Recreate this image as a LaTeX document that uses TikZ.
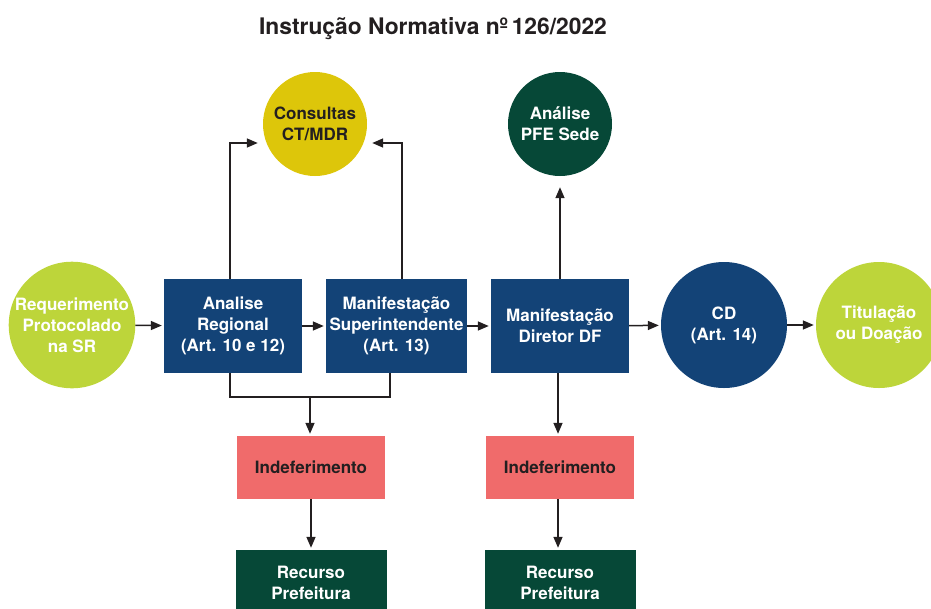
\documentclass[tikz,border=0pt]{standalone}
\usepackage{fontspec}
\setmainfont{TeX Gyre Heros}
\usetikzlibrary{arrows.meta}
\definecolor{limeg}{HTML}{BDD53A}
\definecolor{navy}{HTML}{134377}
\definecolor{dgreen}{HTML}{064837}
\definecolor{ylw}{HTML}{DDC60A}
\definecolor{salmon}{HTML}{F06B6B}
\definecolor{ink}{HTML}{231F20}
\tikzset{
  txt/.style={font=\fontsize{17}{21}\selectfont\bfseries, align=center, inner sep=0pt},
  circ/.style={txt, circle, minimum size=#1, draw=none},
  box/.style={txt, rectangle, minimum width=138pt, minimum height=94pt},
  smallbox/.style={txt, rectangle, minimum width=148pt, minimum height=63pt},
  arr/.style={draw=ink, line width=1.5pt, shorten >=2pt, -{Triangle[length=11pt,width=9pt]}},
  ln/.style={draw=ink, line width=1.5pt},
}
\begin{document}
\begin{tikzpicture}[x=1pt,y=-1pt]
\useasboundingbox (0,0) rectangle (931,608);
\node[txt, font=\fontsize{22.8}{26}\selectfont\bfseries, text=ink] (title) at (433,29) {Instrução Normativa nº\,126/2022};
\node[circ=125pt, fill=limeg, text=white] (req) at (72,325) {Requerimento\\Protocolado\\na SR};
\node[box, fill=navy, text=white] (ar) at (233,326) {Analise\\Regional\\(Art. 10 e 12)};
\node[box, minimum width=141pt, fill=navy, text=white] (ms) at (396.5,326) {Manifestação\\Superintendente\\(Art. 13)};
\node[box, fill=navy, text=white] (df) at (560,326) {Manifestação\\Diretor DF};
\node[circ=126pt, fill=navy, text=white] (cd) at (724,325) {CD\\(Art. 14)};
\node[circ=126pt, fill=limeg, text=white] (tit) at (879,325) {Titulação\\ou Doação};
\node[circ=104pt, fill=ylw, text=ink] (ct) at (315,124) {Consultas\\CT/MDR};
\node[circ=104pt, fill=dgreen, text=white] (pfe) at (560,124) {Análise\\PFE Sede};
\node[smallbox, fill=salmon, text=ink] (ind1) at (311,467.5) {Indeferimento};
\node[smallbox, fill=salmon, text=ink] (ind2) at (560,467.5) {Indeferimento};
\node[smallbox, minimum width=151pt, minimum height=66pt, fill=dgreen, text=white] (rec1) at (311,583) {Recurso\\Prefeitura};
\node[smallbox, minimum width=151pt, minimum height=66pt, fill=dgreen, text=white] (rec2) at (560,583) {Recurso\\Prefeitura};
\coordinate (j) at (310,397);
\draw[arr] (req) -- (ar);
\draw[arr] (ar) -- (ms);
\draw[arr] (ms) -- (df);
\draw[arr] (df) -- (cd);
\draw[arr] (cd) -- (tit);
\draw[arr] ([xshift=-3pt]ar.north) |- ([xshift=-3pt,yshift=-19pt]ct.west);
\draw[arr] ([xshift=5.5pt]ms.north) |- ([xshift=3pt,yshift=-19pt]ct.east);
\draw[arr] (df.north) -- ([yshift=-9pt]pfe.south);
\draw[ln] ([xshift=-3pt]ar.south) |- (j) -| ([xshift=-6.5pt]ms.south);
\draw[arr] (j) -- (j |- ind1.north);
\draw[arr] ([xshift=-2pt]df.south) -- ([xshift=-2pt]ind2.north);
\draw[arr] (ind1.south) -- (rec1.north);
\draw[arr] ([xshift=-2pt]ind2.south) -- ([xshift=-2pt]rec2.north);
\end{tikzpicture}
\end{document}
